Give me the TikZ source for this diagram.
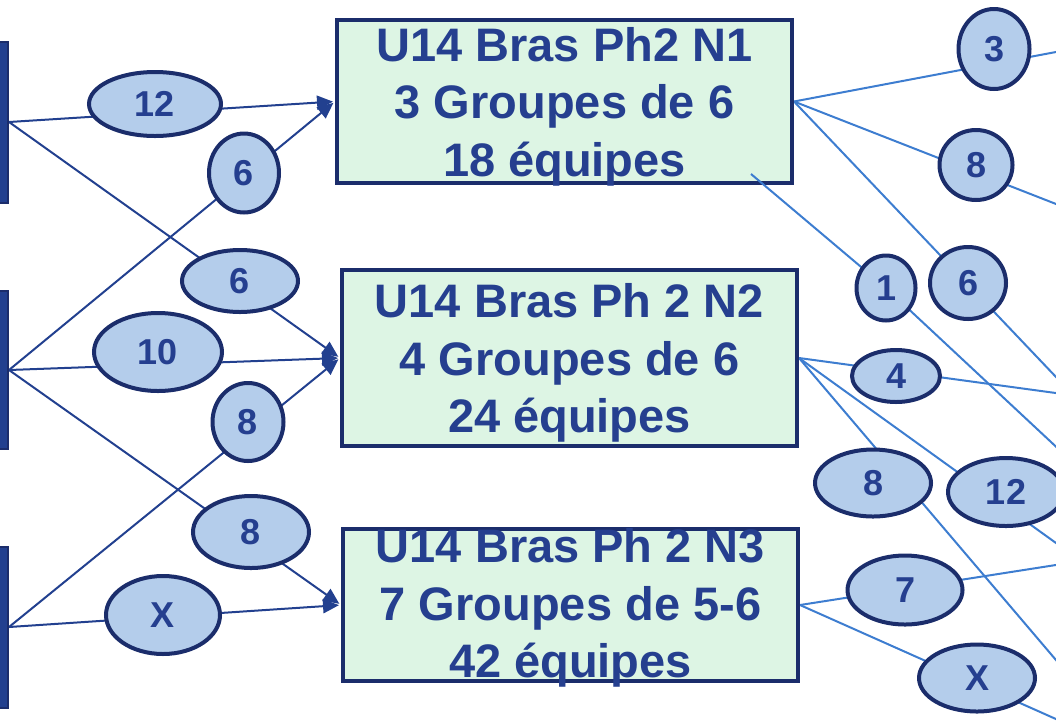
\documentclass[tikz,border=0pt]{standalone}
\usepackage{fontspec}
\setmainfont{Liberation Sans}
\usetikzlibrary{shapes.geometric,arrows.meta,backgrounds}
\definecolor{navy}{RGB}{27,45,107}
\definecolor{barblue}{RGB}{34,64,143}
\definecolor{txtblue}{RGB}{37,63,143}
\definecolor{ellblue}{RGB}{180,205,235}
\definecolor{boxgreen}{RGB}{221,245,228}
\definecolor{darkline}{RGB}{34,64,143}
\definecolor{lightline}{RGB}{61,125,208}
\newcommand{\bxtxt}[3]{\parbox[c][#1][c]{455pt}{\centering\vspace*{#2}#3}}
\begin{document}
\begin{tikzpicture}[x=1pt,y=-1pt,
  srcbar/.style={rectangle,draw=navy,fill=barblue,line width=2pt,minimum width=12pt,inner sep=0pt},
  groupbox/.style={rectangle,draw=navy,fill=boxgreen,line width=4pt,inner sep=0pt,text=txtblue,font=\bfseries\fontsize{47}{57.5}\selectfont},
  countlbl/.style={ellipse,draw=navy,fill=ellblue,line width=4pt,inner sep=0pt,text=txtblue,font=\bfseries\fontsize{36}{36}\selectfont},
  inlink/.style={draw=darkline,line width=2pt,-{Triangle[length=16pt,width=14pt]},shorten >=2pt},
  outlink/.style={draw=lightline,line width=2pt}]
\useasboundingbox (0,0) rectangle (1056,721);

% source bars
\node[srcbar,minimum height=161pt] (bar1) at (2,122) {};
\node[srcbar,minimum height=158pt] (bar2) at (2,370) {};
\node[srcbar,minimum height=161pt] (bar3) at (2,627) {};

% group boxes
\node[groupbox] (box1) at (564.5,101.5) {\bxtxt{163pt}{10pt}{U14 Bras Ph2 N1\\3 Groupes de 6\\18 équipes}};
\node[groupbox] (box2) at (569.5,358) {\bxtxt{176pt}{10pt}{U14 Bras Ph 2 N2\\4 Groupes de 6\\24 équipes}};
\node[groupbox] (box3) at (570.5,605) {\bxtxt{152pt}{6pt}{U14 Bras Ph 2 N3\\7 Groupes de 5-6\\42 équipes}};

% left count labels
\node[countlbl,minimum width=132pt,minimum height=64pt] (e12) at (155,104) {12};
\node[countlbl,minimum width=70pt,minimum height=79pt] (e6a) at (244,173) {6};
\node[countlbl,minimum width=116pt,minimum height=62pt] (e6b) at (240,281) {6};
\node[countlbl,minimum width=128pt,minimum height=78pt] (e10) at (158,352) {10};
\node[countlbl,minimum width=71pt,minimum height=78pt] (e8a) at (248,422) {8};
\node[countlbl,minimum width=116pt,minimum height=72pt] (e8b) at (251,532) {8};
\node[countlbl,minimum width=114pt,minimum height=78pt] (eX) at (163,615) {X};

% right count labels
\node[countlbl,minimum width=71pt,minimum height=80pt] (r3) at (994,49) {3};
\node[countlbl,minimum width=73pt,minimum height=70pt] (r8) at (976,165) {8};
\node[countlbl,minimum width=76pt,minimum height=72pt] (r6) at (968,283) {6};
\node[countlbl,minimum width=88pt,minimum height=52pt] (r4) at (896,376) {4};
\node[countlbl,minimum width=116pt,minimum height=67pt] (r8b) at (873,483) {8};
\node[countlbl,minimum width=116pt,minimum height=68pt] (r12) at (1006,492) {12};
\node[countlbl,minimum width=115pt,minimum height=69pt] (r7) at (905,590) {7};
\node[countlbl,minimum width=116pt,minimum height=67pt] (rX) at (977,678) {X};

% free ends beyond the right edge
\coordinate (o3) at (1066,50.1);
\coordinate (o8) at (1066,207.9);
\coordinate (o6) at (1066,387.5);
\coordinate (o1) at (1066,456);
\coordinate (o4) at (1066,394.4);
\coordinate (o8b) at (1066,671.8);
\coordinate (o12) at (1066,550.2);
\coordinate (o7) at (1066,563.4);
\coordinate (oX) at (1066,723.5);
\coordinate (s1) at (751,174);
\coordinate (c1) at (886,288);

\begin{scope}[on background layer]
  \draw[inlink] (bar1.east) -- (box1.west);
  \draw[inlink] (bar2.east) -- (box1.west);
  \draw[inlink] (bar1.east) -- (box2.west);
  \draw[inlink] (bar2.east) -- (box2.west);
  \draw[inlink] (bar3.east) -- (box2.west);
  \draw[inlink] (bar2.east) -- (box3.west);
  \draw[inlink] (bar3.east) -- (box3.west);
  \draw[outlink] (box1.east) -- (o3);
  \draw[outlink] (box1.east) -- (o8);
  \draw[outlink] (box1.east) -- (o6);
  \draw[outlink] (box2.east) -- (o4);
  \draw[outlink] (box2.east) -- (o8b);
  \draw[outlink] (box2.east) -- (o12);
  \draw[outlink] (box3.east) -- (o7);
  \draw[outlink] (box3.east) -- (oX);
  \draw[outlink] (c1) -- (o1);
\end{scope}
\draw[outlink] (s1) -- (c1);
\node[countlbl,minimum width=59pt,minimum height=65pt] (r1) at (c1) {1};
\end{tikzpicture}
\end{document}
